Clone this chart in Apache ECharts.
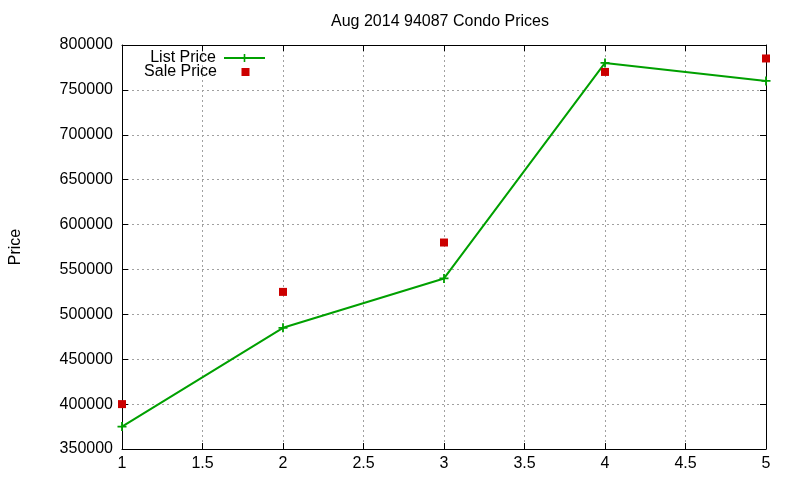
<!DOCTYPE html>
<html>
<head>
<meta charset="utf-8">
<script src="https://cdn.jsdelivr.net/npm/echarts@6/dist/echarts.min.js"></script>
<style>html,body{margin:0;padding:0;background:#fff}#c{width:800px;height:480px}</style>
</head>
<body>
<div id="c"></div>
<script>
var titleText = 'Aug 2014 94087 Condo Prices';
var xValues = [1, 2, 3, 4, 5];
var listPrice = [375000, 485000, 540000, 780000, 760000];
var salePrice = [400000, 525000, 580000, 770000, 785000];
var seriesNames = ['List Price', 'Sale Price'];
var yName = 'Price';

var listData = xValues.map(function (x, i) { return [x, listPrice[i]]; });
var saleData = xValues.map(function (x, i) { return [x, salePrice[i]]; });

var font = "'Liberation Sans', Arial, sans-serif";
var plus = 'path://M4,0h2v4h4v2h-4v4h-2v-4h-4v-2h4z';
var squareIcon = 'path://M0,4h0.01v0.01h-0.01zM16.5,0h8v8h-8zM40.99,4h0.01v0.01h-0.01z';
var gridLine = { show: true, lineStyle: { color: '#a0a0a0', type: [2, 3], width: 1 } };
var axisLine = { show: true, lineStyle: { color: '#000', width: 1 } };
var tick = { show: true, inside: true, length: 6, lineStyle: { color: '#000', width: 1 } };

var chart = echarts.init(document.getElementById('c'), null, { renderer: 'canvas' });
chart.setOption({
  animation: false,
  backgroundColor: '#fff',
  title: {
    text: titleText, left: 435, top: 9, textAlign: 'center',
    textStyle: { fontFamily: font, fontSize: 16, fontWeight: 'normal', color: '#000' }
  },
  legend: [
    {
      data: [seriesNames[0]], orient: 'vertical', align: 'right', right: 534, top: 50,
      padding: 0, itemWidth: 41, itemHeight: 10,
      textStyle: { fontFamily: font, fontSize: 16, color: '#000', padding: [0, 3, 0, 0] }
    },
    {
      data: [{ name: seriesNames[1], icon: squareIcon }], orient: 'vertical', align: 'right', right: 534, top: 64,
      padding: 0, itemWidth: 41, itemHeight: 8,
      itemStyle: { color: '#cc0000', opacity: 1 },
      textStyle: { fontFamily: font, fontSize: 16, color: '#000', padding: [0, 3, 0, 0] }
    }
  ],
  grid: { left: 117, right: 34, top: 45, bottom: 31, containLabel: false },
  xAxis: [
    {
      type: 'value', min: 1, max: 5, interval: 0.5,
      axisLine: axisLine, axisTick: tick, splitLine: gridLine,
      axisLabel: { color: '#000', fontFamily: font, fontSize: 16, margin: 7 }
    },
    {
      type: 'value', position: 'top', min: 1, max: 5, interval: 0.5,
      axisLine: axisLine, axisTick: tick, splitLine: { show: false }, axisLabel: { show: false }
    }
  ],
  yAxis: [
    {
      type: 'value', min: 350000, max: 800000, interval: 50000,
      name: yName, nameLocation: 'middle', nameGap: 98,
      nameTextStyle: { fontFamily: font, fontSize: 16, color: '#000' },
      axisLine: axisLine, axisTick: tick, splitLine: gridLine,
      axisLabel: { color: '#000', fontFamily: font, fontSize: 16, margin: 9, formatter: function (v) { return String(v); } }
    },
    {
      type: 'value', position: 'right', min: 350000, max: 800000, interval: 50000,
      axisLine: axisLine, axisTick: tick, splitLine: { show: false }, axisLabel: { show: false }
    }
  ],
  series: [
    {
      name: seriesNames[0], type: 'line', data: listData,
      symbol: plus, symbolSize: 9, showAllSymbol: true,
      itemStyle: { color: '#00a000' },
      lineStyle: { color: '#00a000', width: 2 },
      z: 2
    },
    {
      name: seriesNames[1], type: 'scatter', data: saleData,
      symbol: 'rect', symbolSize: 8,
      itemStyle: { color: '#cc0000', opacity: 1 },
      z: 3
    }
  ]
});
</script>
</body>
</html>
